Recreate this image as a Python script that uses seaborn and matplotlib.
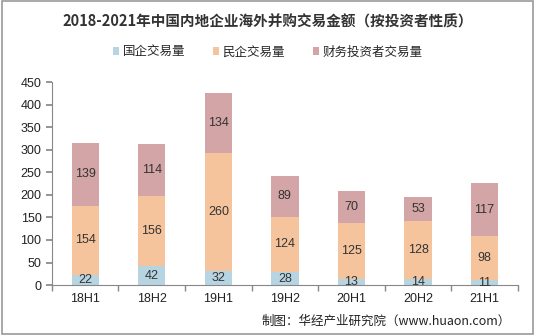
import numpy as np
import pandas as pd
import seaborn as sns
import matplotlib.pyplot as plt
from matplotlib.patches import Rectangle

categories = ["18H1", "18H2", "19H1", "19H2", "20H1", "20H2", "21H1"]
soe = [22, 42, 32, 28, 13, 14, 11]
private = [154, 156, 260, 124, 125, 128, 98]
financial = [139, 114, 134, 89, 70, 53, 117]
series_names = ["国企交易量", "民企交易量", "财务投资者交易量"]
colors = ["#B7D4E3", "#F5C49C", "#D3A5A6"]

sns.set_theme(style="white")
plt.rcParams['font.family'] = ['Noto Sans CJK SC', 'DejaVu Sans']

fig = plt.figure(figsize=(5.35, 3.35), dpi=100)
ax = fig.add_axes([0.097, 0.149, 0.871, 0.606])

df = pd.DataFrame({"cat": categories, "soe": soe, "private": private, "financial": financial})
bottoms = np.zeros(len(categories))
for col, name, c in zip(["soe", "private", "financial"], series_names, colors):
    sns.barplot(data=df, x="cat", y=col, color=c, width=0.41, ax=ax,
                bottom=bottoms, label=name, saturation=1, edgecolor="none")
    vals = df[col].values
    for i, v in enumerate(vals):
        ax.text(i, bottoms[i] + v / 2, str(v), ha="center", va="center",
                fontsize=9, color="#333333", family=["Liberation Sans", "DejaVu Sans"])
    bottoms = bottoms + vals

ax.set_ylim(0, 450)
ax.set_yticks(range(0, 451, 50))
ax.set_xlim(-0.5, len(categories) - 0.5)
ax.set_xlabel("")
ax.set_ylabel("")
for s in ["top", "right"]:
    ax.spines[s].set_visible(False)
for s in ["left", "bottom"]:
    ax.spines[s].set_color("#888888")
    ax.spines[s].set_linewidth(0.8)
ax.tick_params(axis="y", length=4, color="#888888", labelsize=9, labelcolor="#222222", direction="out", left=True)
ax.tick_params(axis="x", length=0, labelsize=9, labelcolor="#222222", pad=6)
ax.set_xticks(np.arange(-0.5, len(categories), 1.0), minor=True)
ax.tick_params(axis="x", which="minor", length=4, color="#888888", direction="out", bottom=True)
for lbl in ax.get_yticklabels() + ax.get_xticklabels():
    lbl.set_family(["Liberation Sans", "DejaVu Sans"])

handles, labels = ax.get_legend_handles_labels()
ax.legend(handles, labels, loc="center", bbox_to_anchor=(0.5, 0.845), bbox_transform=fig.transFigure,
          ncol=3, frameon=False, fontsize=9, handlelength=0.5, handleheight=0.5,
          handletextpad=0.3, columnspacing=2.2)

fig.text(0.5, 0.935, "2018-2021年中国内地企业海外并购交易金额（按投资者性质）", ha="center", va="center",
         fontsize=10.5, fontweight="bold", color="#333333")
fig.text(0.955, 0.04, "制图：华经产业研究院（www.huaon.com）", ha="right", va="center",
         fontsize=9, color="#222222")

fig.patches.append(Rectangle((0.003, 0.004), 0.994, 0.992, transform=fig.transFigure,
                             fill=False, edgecolor="#999999", linewidth=1.2))

fig.savefig("out.png", dpi=100)
